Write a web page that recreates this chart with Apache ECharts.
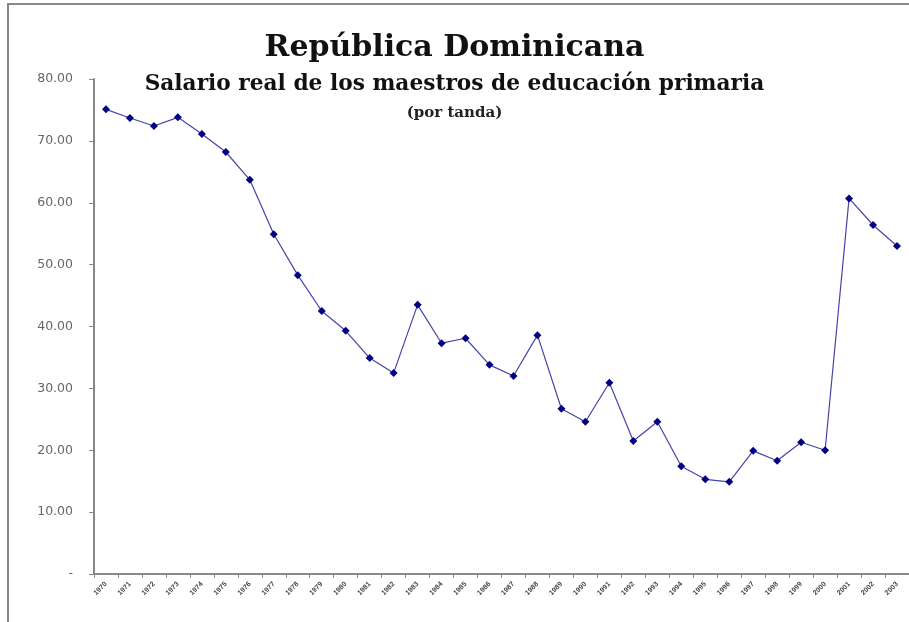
<!DOCTYPE html>
<html>
<head>
<meta charset="utf-8">
<script src="https://cdn.jsdelivr.net/npm/echarts@6/dist/echarts.min.js"></script>
<style>
  html, body { margin: 0; padding: 0; background: #fff; }
  #chart { width: 909px; height: 622px; }
</style>
</head>
<body>
<div id="chart"></div>
<script>
// años (etiquetas del eje x)
var years = [
  '1970', '1971', '1972', '1973', '1974', '1975', '1976', '1977', '1978', '1979',
  '1980', '1981', '1982', '1983', '1984', '1985', '1986', '1987', '1988', '1989',
  '1990', '1991', '1992', '1993', '1994', '1995', '1996', '1997', '1998', '1999',
  '2000', '2001', '2002', '2003'
];

// salario real por tanda
var salario = [
  75.1, 73.7, 72.4, 73.8, 71.1, 68.2, 63.7, 54.9, 48.3, 42.5,
  39.3, 34.9, 32.5, 43.5, 37.3, 38.1, 33.8, 32.0, 38.6, 26.7,
  24.6, 30.9, 21.5, 24.6, 17.4, 15.3, 14.9, 19.9, 18.3, 21.3,
  20.0, 60.7, 56.4, 53.0
];

var chart = echarts.init(document.getElementById('chart'));

chart.setOption({
  animation: false,
  title: [
    {
      text: 'República Dominicana',
      left: 'center',
      top: 28,
      textStyle: { fontFamily: 'DejaVu Serif', fontWeight: 'bold', fontSize: 30, color: '#111' }
    },
    {
      text: 'Salario real de los maestros de educación primaria',
      left: 'center',
      top: 68,
      textStyle: { fontFamily: 'DejaVu Serif', fontWeight: 'bold', fontSize: 21.7, color: '#111' }
    },
    {
      text: '(por tanda)',
      left: 'center',
      top: 101,
      textStyle: { fontFamily: 'DejaVu Serif', fontWeight: 'bold', fontSize: 15, color: '#222' }
    }
  ],
  graphic: [{
    type: 'rect',
    shape: { x: 8, y: 4, width: 1000, height: 700 },
    style: { fill: 'none', stroke: '#888', lineWidth: 2 },
    silent: true
  }],
  grid: { left: 94, right: -5, top: 79, bottom: 48 },
  xAxis: {
    type: 'category',
    data: years,
    boundaryGap: true,
    axisLine: { lineStyle: { color: '#888', width: 2 } },
    axisTick: { show: true, length: 4, lineStyle: { color: '#888' } },
    axisLabel: { rotate: 45, fontSize: 7, fontWeight: 'bold', color: '#444', interval: 0, margin: 9 }
  },
  yAxis: {
    type: 'value',
    min: 0,
    max: 80,
    interval: 10,
    axisLine: { show: true, lineStyle: { color: '#888', width: 2 } },
    axisTick: { show: true, length: 5, lineStyle: { color: '#888' } },
    splitLine: { show: false },
    axisLabel: {
      fontFamily: 'DejaVu Sans',
      fontSize: 12.5,
      color: '#666',
      margin: 21,
      formatter: function (v) { return v === 0 ? '-' : v.toFixed(2); }
    }
  },
  series: [{
    type: 'line',
    data: salario,
    symbol: 'diamond',
    symbolSize: 8,
    lineStyle: { color: '#4444aa', width: 1.2 },
    itemStyle: { color: '#000080' }
  }]
});
</script>
</body>
</html>
